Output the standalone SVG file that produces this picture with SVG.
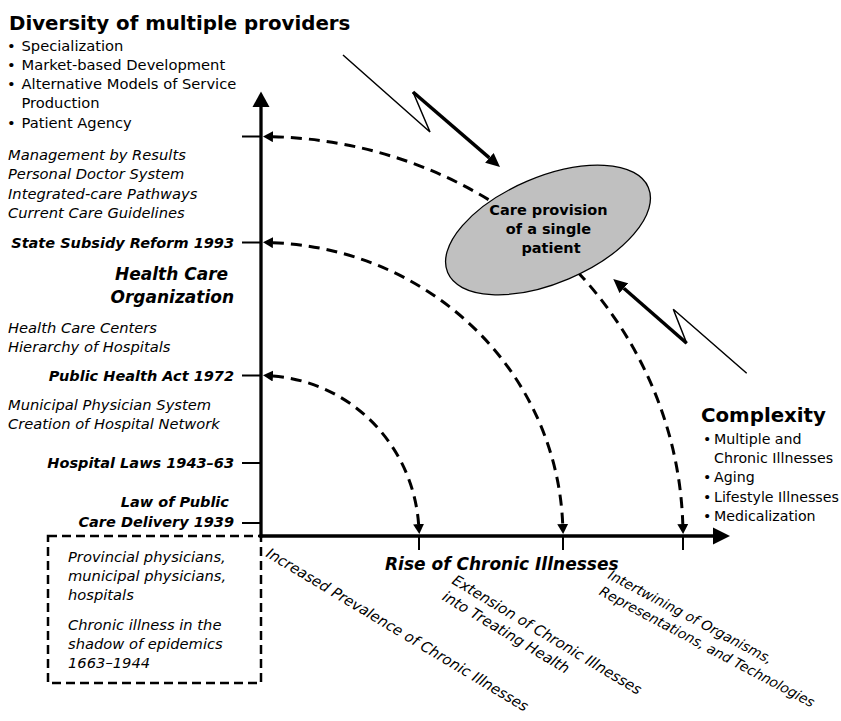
<svg xmlns="http://www.w3.org/2000/svg" width="841" height="721" viewBox="0 0 841 721">
  <style>
    text { font-family: "DejaVu Sans", "Liberation Sans", sans-serif; fill: #000; }
    .body { font-size: 14.7px; }
    .side { font-size: 14.2px; }
    .it { font-style: italic; }
    .bi { font-style: italic; font-weight: bold; font-size: 14.5px; }
    .head { font-weight: bold; font-size: 19.8px; }
    .axis-title { font-style: italic; font-weight: bold; font-size: 17px; }
    .rot { font-style: italic; font-size: 14.6px; }
    .rot-s { font-style: italic; font-size: 13.8px; }
    .axis { stroke: #000; stroke-width: 3.3; fill: none; }
    .tick { stroke: #000; stroke-width: 2; }
    .arc { stroke: #000; stroke-width: 3; fill: none; stroke-dasharray: 11 7; marker-start: url(#dash-head); marker-end: url(#dash-head); }
    .thin { stroke: #000; stroke-width: 1.5; fill: none; stroke-linejoin: miter; }
    .thick { stroke: #000; stroke-width: 3.5; fill: none; marker-end: url(#bolt-head); }
  </style>
  <defs>
    <marker id="dash-head" viewBox="0 -5.5 10 11" refX="0" refY="0" markerWidth="10" markerHeight="11" markerUnits="userSpaceOnUse" orient="auto-start-reverse">
      <path d="M0,-5.5 L10,0 L0,5.5 z" fill="#000"/>
    </marker>
    <marker id="bolt-head" viewBox="0 -6.5 14 13" refX="0" refY="0" markerWidth="14" markerHeight="13" markerUnits="userSpaceOnUse" orient="auto">
      <path d="M0,-6.5 L14,0 L0,6.5 z" fill="#000"/>
    </marker>
  </defs>

  <!-- earlier period, dashed frame below the origin -->
  <g id="early-period">
    <rect x="48" y="536" width="213" height="147" fill="none" stroke="#000" stroke-width="2.5" stroke-dasharray="9 5"/>
    <text class="body it">
      <tspan x="68" y="562">Provincial physicians,</tspan>
      <tspan x="68" y="581">municipal physicians,</tspan>
      <tspan x="68" y="600">hospitals</tspan>
      <tspan x="68" y="629.5">Chronic illness in the</tspan>
      <tspan x="68" y="648.5">shadow of epidemics</tspan>
      <tspan x="68" y="668">1663–1944</tspan>
    </text>
  </g>

  <!-- connectors: dashed development arcs and the two pressure bolts -->
  <g id="connectors">
    <path class="arc" d="M273,136.7 A422,399.5 0 0 1 682.8,524"/>
    <path class="arc" d="M273,242.7 A302,293.5 0 0 1 562.7,524"/>
    <path class="arc" d="M273,376 A158,160.5 0 0 1 418.6,524"/>

    <polyline class="thin" points="343,55 430,132 413,92"/>
    <line class="thick" x1="413" y1="92" x2="489.4" y2="157.9"/>

    <polyline class="thin" points="746.7,373.3 673.3,309.3 686.7,343.3"/>
    <line class="thick" x1="686.7" y1="343.3" x2="623.8" y2="288.2"/>
  </g>

  <!-- axes -->
  <g id="axes">
    <line class="axis" x1="261" y1="106" x2="261" y2="537.6"/>
    <polygon points="252.5,107 261,91.5 269.5,107" fill="#000"/>
    <line class="axis" x1="259.4" y1="536" x2="714" y2="536"/>
    <polygon points="713,527.5 730,536 713,544.5" fill="#000"/>

    <line class="tick" x1="242" y1="136.5" x2="261" y2="136.5"/>
    <line class="tick" x1="242" y1="242.5" x2="261" y2="242.5"/>
    <line class="tick" x1="242" y1="375.5" x2="261" y2="375.5"/>
    <line class="tick" x1="242" y1="463" x2="261" y2="463"/>
    <line class="tick" x1="242" y1="523" x2="261" y2="523"/>

    <line class="tick" x1="419" y1="536" x2="419" y2="550"/>
    <line class="tick" x1="563" y1="536" x2="563" y2="550"/>
    <line class="tick" x1="683" y1="536" x2="683" y2="550"/>
  </g>

  <!-- central node -->
  <g id="care-provision">
    <ellipse cx="548" cy="230" rx="109" ry="53" transform="rotate(-23 548 230)" fill="#c0c0c0" stroke="#000" stroke-width="1.3"/>
    <text class="body" style="font-weight:bold;font-size:14.5px" text-anchor="middle">
      <tspan x="551" y="215">Care provision</tspan>
      <tspan x="551" y="234">of a single</tspan>
      <tspan x="551" y="253">patient</tspan>
    </text>
  </g>

  <!-- upper pressure: diversity of providers -->
  <g id="diversity">
    <text class="head" x="9" y="30">Diversity of multiple providers</text>
    <text class="body">
      <tspan x="7" y="50.5">•</tspan>
      <tspan x="7" y="69.8">•</tspan>
      <tspan x="7" y="89">•</tspan>
      <tspan x="7" y="127.6">•</tspan>
    </text>
    <text class="body">
      <tspan x="21.5" y="50.5">Specialization</tspan>
      <tspan x="21.5" y="69.8">Market-based Development</tspan>
      <tspan x="21.5" y="89">Alternative Models of Service</tspan>
      <tspan x="21.5" y="108.3">Production</tspan>
      <tspan x="21.5" y="127.6">Patient Agency</tspan>
    </text>
  </g>

  <!-- right pressure: complexity -->
  <g id="complexity">
    <text class="head" x="701" y="422">Complexity</text>
    <text class="side">
      <tspan x="703" y="444">•</tspan>
      <tspan x="703" y="482">•</tspan>
      <tspan x="703" y="502">•</tspan>
      <tspan x="703" y="521">•</tspan>
    </text>
    <text class="side">
      <tspan x="714" y="444">Multiple and</tspan>
      <tspan x="714" y="463">Chronic Illnesses</tspan>
      <tspan x="714" y="482">Aging</tspan>
      <tspan x="714" y="502">Lifestyle Illnesses</tspan>
      <tspan x="714" y="521">Medicalization</tspan>
    </text>
  </g>

  <!-- vertical axis: health care organization -->
  <g id="organization-1990s">
    <text class="body it">
      <tspan x="8" y="160">Management by Results</tspan>
      <tspan x="8" y="179.3">Personal Doctor System</tspan>
      <tspan x="8" y="198.6">Integrated-care Pathways</tspan>
      <tspan x="8" y="218">Current Care Guidelines</tspan>
    </text>
  </g>
  <g id="reform-1993">
    <text class="bi" x="234" y="248" text-anchor="end">State Subsidy Reform 1993</text>
  </g>
  <g id="axis-organization">
    <text class="axis-title" text-anchor="end">
      <tspan x="234" y="280">Health Care</tspan>
      <tspan x="234" y="302.5">Organization</tspan>
    </text>
  </g>
  <g id="organization-1970s">
    <text class="body it">
      <tspan x="8" y="332.5">Health Care Centers</tspan>
      <tspan x="8" y="352">Hierarchy of Hospitals</tspan>
    </text>
  </g>
  <g id="act-1972">
    <text class="bi" x="234" y="381" text-anchor="end">Public Health Act 1972</text>
  </g>
  <g id="organization-1950s">
    <text class="body it">
      <tspan x="8" y="409.5">Municipal Physician System</tspan>
      <tspan x="8" y="429">Creation of Hospital Network</tspan>
    </text>
  </g>
  <g id="laws-1943">
    <text class="bi" x="234" y="468" text-anchor="end">Hospital Laws 1943–63</text>
  </g>
  <g id="law-1939">
    <text class="bi" text-anchor="end">
      <tspan x="234" y="507">Law of Public</tspan>
      <tspan x="234" y="527">Care Delivery 1939</tspan>
    </text>
  </g>

  <!-- horizontal axis: rise of chronic illnesses -->
  <g id="axis-chronic">
    <text class="axis-title" x="385" y="570">Rise of Chronic Illnesses</text>
  </g>
  <g id="phase-prevalence">
    <text class="rot" transform="translate(265 556) rotate(31)" x="0" y="0">Increased Prevalence of Chronic Illnesses</text>
  </g>
  <g id="phase-extension">
    <text class="rot" transform="translate(451 583) rotate(31)">
      <tspan x="0" y="0">Extension of Chronic Illnesses</tspan>
      <tspan x="0" y="19">into Treating Health</tspan>
    </text>
  </g>
  <g id="phase-intertwining">
    <text class="rot-s" transform="translate(607 578) rotate(28)">
      <tspan x="0" y="0">Intertwining of Organisms,</tspan>
      <tspan x="0" y="18.5">Representations, and Technologies</tspan>
    </text>
  </g>
</svg>
